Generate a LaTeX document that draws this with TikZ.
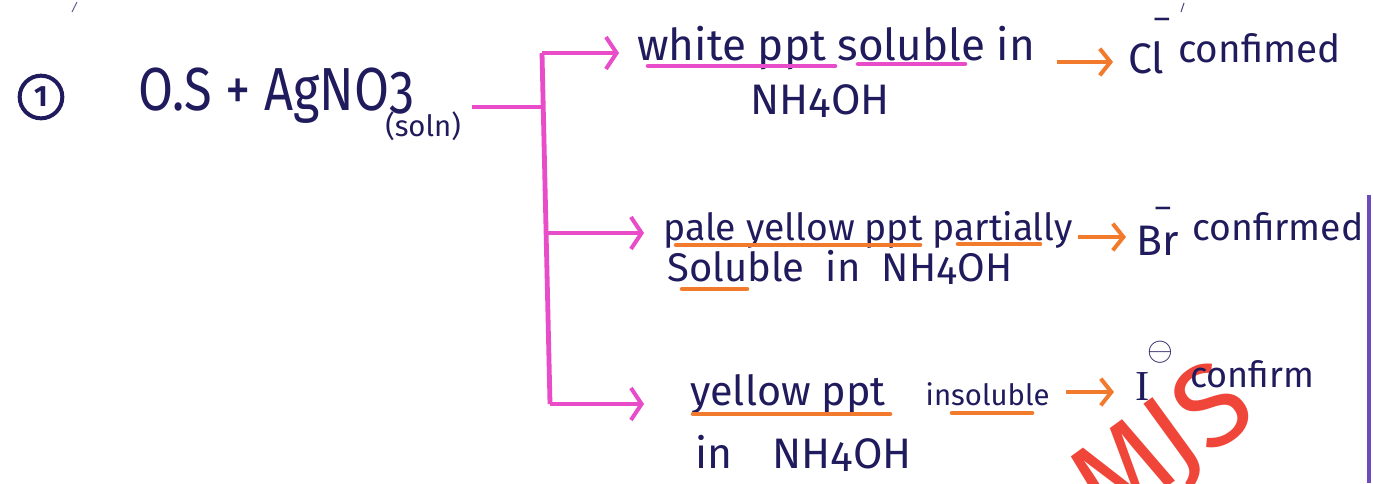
\documentclass[tikz,border=0pt]{standalone}
\usepackage{fontspec}
\setmainfont{Fira Sans}
\newfontfamily\seriffont{Liberation Serif}
\usetikzlibrary{arrows.meta,calc}
\definecolor{ink}{HTML}{1F1B5C}
\definecolor{pinkline}{HTML}{E84CC8}
\definecolor{orangeline}{HTML}{F27A2C}
\definecolor{mjs}{HTML}{F0463A}
\definecolor{edge}{HTML}{6A4CBF}
\newcommand{\fs}[1]{\fontsize{#1}{#1}\selectfont}
\begin{document}
\begin{tikzpicture}[x=0.75pt,y=-0.75pt,
  txt/.style={text=ink, inner sep=0pt, anchor=base west},
  pinkarrow/.style={draw=pinkline, line width=3.6pt, -{Straight Barb[length=8pt,width=24pt,line width=3pt]}},
  pinkstroke/.style={draw=pinkline, line width=3.6pt},
  orangearrow/.style={draw=orangeline, line width=3.6pt, -{Straight Barb[length=8pt,width=20pt,line width=3pt]}},
  ul/.style={draw=orangeline, line width=3.4pt, line cap=round},
  pul/.style={draw=pinkline, line width=3.4pt, line cap=round}]
\useasboundingbox (0,0) rectangle (1373,483);
\fill[white] (0,0) rectangle (1373,483);
\draw[edge, line width=2.4pt] (1369,195) -- (1369,483);
\draw[ink!70, line width=0.7pt] (72,12) -- (77,2);
\draw[ink!80, line width=0.8pt] (1181,12) -- (1184,3);
% watermark
\begin{scope}
\clip (0,0) rectangle (1373,483);
\node[text=mjs, font=\fs{88}, rotate=36, inner sep=0pt] (wm) at (1165,448) {MJS};
\end{scope}
% left
\node[draw=ink, line width=3pt, circle, minimum size=32pt, inner sep=0pt, text=ink, font=\bfseries\fs{22}] (num) at (41,97) {1};
\node[txt, font=\fs{38}] (eq) at (138,110) {\scalebox{1}[1.2]{O.S + AgNO\raisebox{-0.1ex}{3}}};
\node[txt, font=\fs{22}] (soln) at (385,136) {(soln)};
% branches
\coordinate (jin) at (542,107);
\coordinate (jtop) at (542,53);
\coordinate (jmid) at (547,233);
\coordinate (jbot) at (550,404);
\coordinate (ein) at (472,107);
\node[txt, font=\fs{33}] (t1) at (637,60) {white ppt soluble in};
\node[txt, font=\fs{32}] (t1b) at (750,114) {NH\raisebox{-0.15ex}{4}OH};
\node[txt, font=\fs{28}] (t2) at (663,240) {pale yellow ppt partially};
\node[txt, font=\fs{30}] (t2b) at (667,281) {Soluble\hspace{8pt} in\hspace{8pt} NH\raisebox{-0.15ex}{4}OH};
\node[txt, font=\fs{31}] (t3) at (690,405) {yellow ppt\hspace{30pt}{\fs{22}insoluble}};
\node[txt, font=\fs{32}] (t3b) at (695,468) {in\hspace{30pt}NH\raisebox{-0.15ex}{4}OH};
\draw[pinkstroke] (ein) -- (jin);
\draw[pinkstroke] (jtop) -- (jbot);
\draw[pinkarrow] (jtop) -- (619,53);
\draw[pinkarrow] (jmid) -- (644,233);
\draw[pinkarrow] (jbot) -- (644,404);
% results
\node[txt, font=\fs{32}] (r1) at (1128,73) {Cl};
\node[text=ink, inner sep=0pt, font=\fs{24}] (m1) at (1162,24) {–};
\node[txt, font=\fs{29}] (c1) at (1178,62) {confimed};
\node[txt, font=\fs{32}] (r2) at (1136,255) {Br};
\node[text=ink, inner sep=0pt, font=\fs{24}] (m2) at (1163,213) {–};
\node[txt, font=\fs{28}] (c2) at (1192,240) {confirmed};
\node[txt, font=\seriffont\fs{32}] (r3) at (1135,400) {I};
\node[text=ink, inner sep=0pt, font=\fs{26}] (m3) at (1160,352) {$\ominus$};
\node[txt, font=\fs{27}] (c3) at (1190,387) {confirm};
\draw[orangearrow] (1057,62) -- (1113,62);
\draw[orangearrow] (1078,237) -- (1126,237);
\draw[orangearrow] (1066,392) -- (1114,392);
% underlines
\draw[pul] (648,66) -- (835,66);
\draw[pul] (858,64) -- (965,64);
\draw[ul] (676,245) -- (920,245);
\draw[ul] (958,244) -- (1040,244);
\draw[ul] (682,289) -- (747,289);
\draw[ul] (693,414) -- (890,414);
\draw[ul] (952,413) -- (1032,413);
\end{tikzpicture}
\end{document}
